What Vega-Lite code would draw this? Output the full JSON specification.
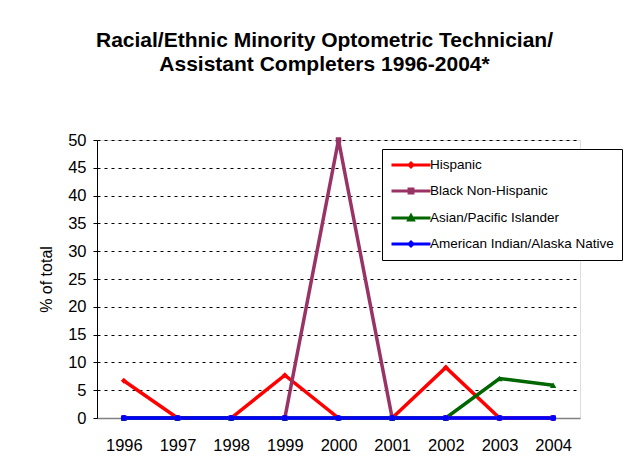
{
  "$schema": "https://vega.github.io/schema/vega-lite/v6.json",
  "autosize": "none",
  "width": 483,
  "height": 278,
  "padding": {"left": 97, "top": 140, "right": 60, "bottom": 52},
  "background": "white",
  "title": {
    "text": ["Racial/Ethnic Minority Optometric Technician/", "Assistant Completers 1996-2004*"],
    "font": "Liberation Sans",
    "fontSize": 21,
    "fontWeight": "bold",
    "color": "black",
    "lineHeight": 24,
    "anchor": "middle",
    "frame": "group",
    "dx": -14,
    "offset": 57
  },
  "data": {
    "values": [
      {"year": "1996", "group": "Hispanic", "value": 6.7},
      {"year": "1997", "group": "Hispanic", "value": 0},
      {"year": "1998", "group": "Hispanic", "value": 0},
      {"year": "1999", "group": "Hispanic", "value": 7.7},
      {"year": "2000", "group": "Hispanic", "value": 0},
      {"year": "2001", "group": "Hispanic", "value": 0},
      {"year": "2002", "group": "Hispanic", "value": 9.1},
      {"year": "2003", "group": "Hispanic", "value": 0},
      {"year": "2004", "group": "Hispanic", "value": 0},
      {"year": "1996", "group": "Black Non-Hispanic", "value": 0},
      {"year": "1997", "group": "Black Non-Hispanic", "value": 0},
      {"year": "1998", "group": "Black Non-Hispanic", "value": 0},
      {"year": "1999", "group": "Black Non-Hispanic", "value": 0},
      {"year": "2000", "group": "Black Non-Hispanic", "value": 50},
      {"year": "2001", "group": "Black Non-Hispanic", "value": 0},
      {"year": "2002", "group": "Black Non-Hispanic", "value": 0},
      {"year": "2003", "group": "Black Non-Hispanic", "value": 0},
      {"year": "2004", "group": "Black Non-Hispanic", "value": 0},
      {"year": "1996", "group": "Asian/Pacific Islander", "value": 0},
      {"year": "1997", "group": "Asian/Pacific Islander", "value": 0},
      {"year": "1998", "group": "Asian/Pacific Islander", "value": 0},
      {"year": "1999", "group": "Asian/Pacific Islander", "value": 0},
      {"year": "2000", "group": "Asian/Pacific Islander", "value": 0},
      {"year": "2001", "group": "Asian/Pacific Islander", "value": 0},
      {"year": "2002", "group": "Asian/Pacific Islander", "value": 0},
      {"year": "2003", "group": "Asian/Pacific Islander", "value": 7.1},
      {"year": "2004", "group": "Asian/Pacific Islander", "value": 5.9},
      {"year": "1996", "group": "American Indian/Alaska Native", "value": 0},
      {"year": "1997", "group": "American Indian/Alaska Native", "value": 0},
      {"year": "1998", "group": "American Indian/Alaska Native", "value": 0},
      {"year": "1999", "group": "American Indian/Alaska Native", "value": 0},
      {"year": "2000", "group": "American Indian/Alaska Native", "value": 0},
      {"year": "2001", "group": "American Indian/Alaska Native", "value": 0},
      {"year": "2002", "group": "American Indian/Alaska Native", "value": 0},
      {"year": "2003", "group": "American Indian/Alaska Native", "value": 0},
      {"year": "2004", "group": "American Indian/Alaska Native", "value": 0}
    ]
  },
  "encoding": {
    "x": {
      "field": "year",
      "type": "ordinal",
      "scale": {"type": "point", "padding": 0.5},
      "axis": {
        "title": null,
        "labelAngle": 0,
        "labelFont": "Liberation Sans",
        "labelFontSize": 16.5,
        "labelColor": "black",
        "labelPadding": 19,
        "ticks": false,
        "domainColor": "#808080",
        "domainWidth": 1.5,
        "grid": false
      }
    },
    "y": {
      "field": "value",
      "type": "quantitative",
      "scale": {"domain": [0, 50], "nice": false},
      "axis": {
        "title": "% of total",
        "titleFont": "Liberation Sans",
        "titleFontSize": 16,
        "titleFontWeight": "normal",
        "titleColor": "black",
        "titlePadding": 13,
        "values": [0, 5, 10, 15, 20, 25, 30, 35, 40, 45, 50],
        "labelFont": "Liberation Sans",
        "labelFontSize": 16.5,
        "labelColor": "black",
        "labelPadding": 7,
        "tickColor": "black",
        "tickSize": 4,
        "domainColor": "black",
        "grid": true,
        "gridColor": "black",
        "gridDash": [3, 4],
        "gridWidth": 1
      }
    },
    "color": {
      "field": "group",
      "type": "nominal",
      "scale": {
        "domain": ["Hispanic", "Black Non-Hispanic", "Asian/Pacific Islander", "American Indian/Alaska Native"],
        "range": ["#FF0000", "#993366", "#006600", "#0000FF"]
      }
    }
  },
  "layer": [
    {
      "mark": {"type": "line", "strokeWidth": 3.5},
      "encoding": {
        "color": {
          "field": "group",
          "type": "nominal",
          "legend": {
            "title": null,
            "orient": "none",
            "legendX": 285,
            "legendY": 9,
            "strokeColor": "black",
            "fillColor": "white",
            "padding": 8,
            "labelFont": "Liberation Sans",
            "labelFontSize": 13.5,
            "labelColor": "black",
            "labelLimit": 400,
            "symbolSize": 169,
            "symbolStrokeWidth": 3,
            "symbolOffset": 13,
            "labelOffset": 11,
            "rowPadding": 10,
            "encode": {
              "symbols": {
                "update": {
                  "shape": {"signal": "datum.value === 'Hispanic' ? 'M-3,0H3M0,-0.3L0.3,0L0,0.3L-0.3,0Z' : datum.value === 'Black Non-Hispanic' ? 'M-3,0H3M-0.3,-0.3H0.3V0.3H-0.3Z' : datum.value === 'Asian/Pacific Islander' ? 'M-3,0H3M0,-0.35L0.35,0.3H-0.35Z' : 'M-3,0H3M0,-0.3L0.3,0L0,0.3L-0.3,0Z'"},
                  "fill": {"signal": "scale('color', datum.value)"},
                  "stroke": {"signal": "scale('color', datum.value)"}
                }
              }
            }
          }
        }
      }
    },
    {
      "transform": [{"filter": "datum.group === 'Hispanic'"}],
      "mark": {"type": "point", "filled": true, "size": 36, "opacity": 1, "shape": "diamond"},
      "encoding": {"color": {"field": "group", "type": "nominal", "legend": null}}
    },
    {
      "transform": [{"filter": "datum.group === 'Black Non-Hispanic'"}],
      "mark": {"type": "point", "filled": true, "size": 30, "opacity": 1, "shape": "square"},
      "encoding": {"color": {"field": "group", "type": "nominal", "legend": null}}
    },
    {
      "transform": [{"filter": "datum.group === 'Asian/Pacific Islander'"}],
      "mark": {"type": "point", "filled": true, "size": 40, "opacity": 1, "shape": "triangle-up"},
      "encoding": {"color": {"field": "group", "type": "nominal", "legend": null}}
    },
    {
      "transform": [{"filter": "datum.group === 'American Indian/Alaska Native'"}],
      "mark": {"type": "point", "filled": true, "size": 36, "opacity": 1, "shape": "circle"},
      "encoding": {"color": {"field": "group", "type": "nominal", "legend": null}}
    }
  ]
}
